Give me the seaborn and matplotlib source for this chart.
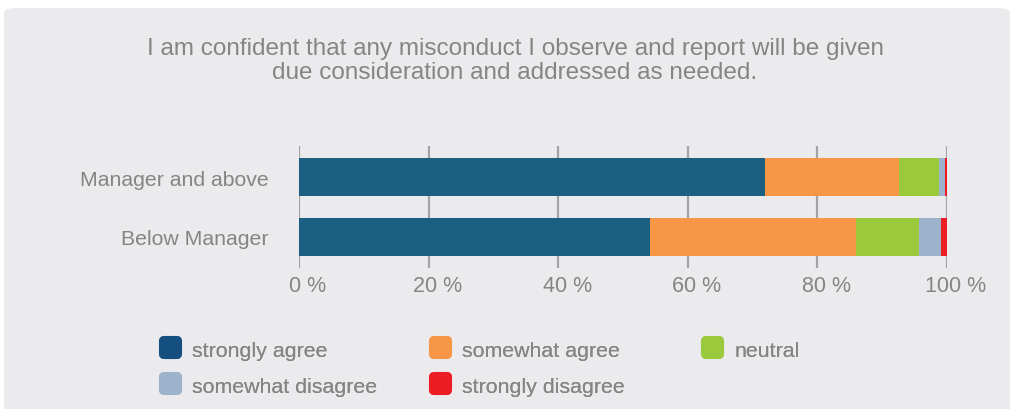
import numpy as np
import pandas as pd
import seaborn as sns
import matplotlib.pyplot as plt
from matplotlib.lines import Line2D
from matplotlib.patches import FancyBboxPatch
from matplotlib.path import Path
import matplotlib.transforms as mtransforms

# ---- data -------------------------------------------------------------
groups = ["Manager and above", "Below Manager"]
responses = ["strongly agree", "somewhat agree", "neutral",
             "somewhat disagree", "strongly disagree"]
strongly_agree = [71.9, 54.2]
somewhat_agree = [20.7, 31.7]
neutral = [6.2, 9.8]
somewhat_disagree = [0.9, 3.4]
strongly_disagree = [0.3, 0.9]
x_ticks = [0, 20, 40, 60, 80, 100]
x_tick_labels = ["0 %", "20 %", "40 %", "60 %", "80 %", "100 %"]
title = ("I am confident that any misconduct I observe and report will be given\n"
         "due consideration and addressed as needed.")

colors = ["#1b6082", "#f79646", "#9bc93c", "#9db3cb", "#ed1c24"]
legend_colors = ["#154f80", "#f79646", "#9bc93c", "#9db3cb", "#ed1c24"]
panel_color = "#ebebed"
text_color = "#858585"
grid_color = "#a3a3a5"

series = [strongly_agree, somewhat_agree, neutral,
          somewhat_disagree, strongly_disagree]

# cumulative running totals for stacking
cum = np.cumsum(np.array(series), axis=0)
df = pd.DataFrame({
    "group": np.tile(groups, len(responses)),
    "response": np.repeat(responses, len(groups)),
    "cum": cum.ravel(),
})

sns.set_theme(style="white")
plt.rcParams["font.family"] = ["Liberation Sans", "DejaVu Sans"]

W, H = 1013, 410
fig = plt.figure(figsize=(W / 100, H / 100), dpi=100)
fig.patch.set_facecolor("white")

# rounded grey panel behind everything
panel = FancyBboxPatch((4 / W, -0.1), (1010 - 4) / W, (H - 9) / H + 0.1,
                       boxstyle="round,pad=0,rounding_size=0.012",
                       transform=fig.transFigure, facecolor=panel_color,
                       edgecolor="none", zorder=-5)
fig.patches.append(panel)

ax = fig.add_axes([299 / W, 1 - 269 / H, (947 - 299) / W, (269 - 147) / H])
ax.set_facecolor("none")
ax.set_zorder(2)

# draw the longest cumulative bar first so shorter segments sit on top
for i in range(len(responses) - 1, -1, -1):
    sub = df[df["response"] == responses[i]]
    sns.barplot(data=sub, x="cum", y="group", order=groups, orient="h",
                color=colors[i], width=0.63, saturation=1, ax=ax,
                edgecolor="none", linewidth=0, zorder=3)

ax.set_xlim(0, 100)
ax.set_ylim(1.517, -0.517)
ax.set_xlabel("")
ax.set_ylabel("")
for s in ax.spines.values():
    s.set_visible(False)

for xv in x_ticks:
    ax.axvline(xv, color=grid_color, lw=1.6, zorder=1)

ax.set_xticks(x_ticks)
ax.set_xticklabels(x_tick_labels)
ax.tick_params(axis="x", length=0, pad=5, labelsize=15.5, labelcolor=text_color)
ax.tick_params(axis="y", length=0, pad=22, labelsize=15.3, labelcolor=text_color)
offset = mtransforms.ScaledTranslation(9 / 100, 0, fig.dpi_scale_trans)
for lab in ax.get_xticklabels():
    lab.set_transform(lab.get_transform() + offset)

fig.text(515 / W, 1 - 61 / H, title, ha="center", va="center",
         fontsize=17.5, color=text_color, linespacing=1.12)

# rounded-square legend marker
box = FancyBboxPatch((-0.5, -0.5), 1, 1,
                     boxstyle="round,pad=0,rounding_size=0.25")
rounded = Path(box.get_path().vertices, box.get_path().codes)

def handle(c):
    return Line2D([], [], linestyle="none", marker=rounded, markersize=16.6,
                  markerfacecolor=c, markeredgecolor="none")

columns = [([0, 3], 158), ([1, 4], 428), ([2], 700)]
for idx, xpix in columns:
    leg = fig.legend([handle(legend_colors[k]) for k in idx],
                     [responses[k] for k in idx],
                     loc="upper left", bbox_to_anchor=(xpix / W, 1 - 339 / H),
                     bbox_transform=fig.transFigure, frameon=False,
                     fontsize=15.4, labelcolor=text_color, borderpad=0,
                     borderaxespad=0, handlelength=1.1, handleheight=1.1,
                     handletextpad=0.5, labelspacing=0.7)
    fig.add_artist(leg)

fig.savefig("out.png", dpi=100)
